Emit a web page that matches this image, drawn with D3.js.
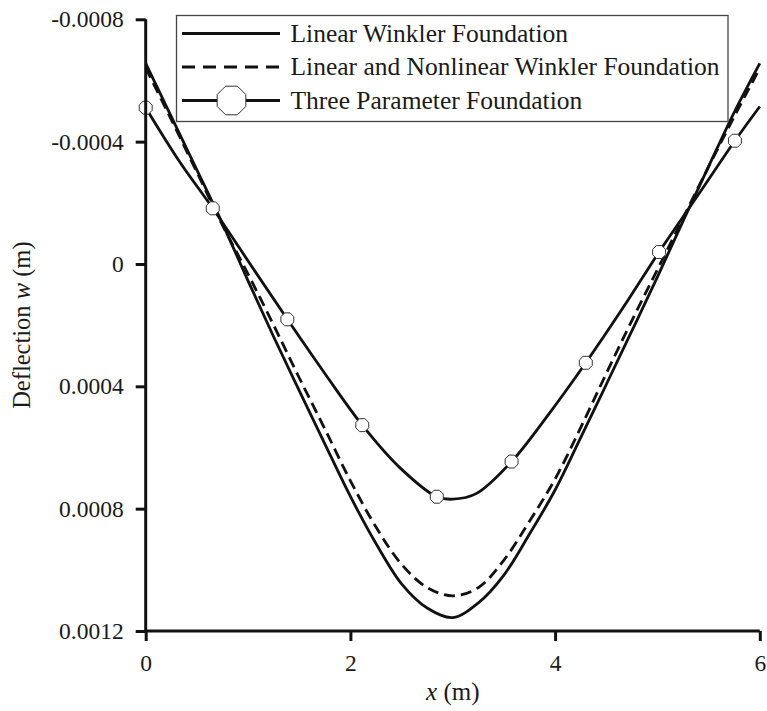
<!DOCTYPE html>
<html>
<head>
<meta charset="utf-8">
<script src="https://cdn.jsdelivr.net/npm/d3@7"></script>
<style>
  html, body { margin: 0; padding: 0; background: #fff; }
  svg { display: block; }
</style>
</head>
<body>
<svg id="chart" width="767" height="711"></svg>
<script>
// Beam deflection along x for three foundation models
const xGrid = [0, 0.25, 0.5, 0.75, 1, 1.25, 1.5, 1.75, 2, 2.25, 2.5, 2.75, 3,
               3.25, 3.5, 3.75, 4, 4.25, 4.5, 4.75, 5, 5.25, 5.5, 5.75, 6];

const linearWinkler = [-0.000656, -0.000482, -0.000308, -0.000132, 0.000055, 0.000238,
  0.000414, 0.000588, 0.000760, 0.000914, 0.001046, 0.001125, 0.001156,
  0.001108, 0.001017, 0.000883, 0.000739, 0.000568, 0.000394, 0.000219,
  0.000042, -0.000140, -0.000319, -0.000496, -0.000656];

const linearNonlinearWinkler = [-0.000641, -0.000472, -0.000300, -0.000127, 0.000033, 0.000200,
  0.000372, 0.000539, 0.000709, 0.000860, 0.000982, 0.001058, 0.001085,
  0.001058, 0.000968, 0.000841, 0.000703, 0.000535, 0.000358, 0.000185,
  0.000018, -0.000150, -0.000318, -0.000482, -0.000640];

const threeParamX = [0, 0.33, 0.655, 1.02, 1.384, 1.75, 2.116, 2.48, 2.844, 3.0,
  3.234, 3.575, 3.94, 4.30, 4.66, 5.016, 5.39, 5.757, 6];
const threeParam = [-0.000511, -0.000335, -0.000182, 0.000000, 0.000181, 0.000358,
  0.000527, 0.000665, 0.000761, 0.000769, 0.000750, 0.000646, 0.000490,
  0.000323, 0.000145, -0.000039, -0.000222, -0.000403, -0.000515];
// x positions of the three-parameter samples that carry a marker
const threeParamMarkerX = [0, 0.655, 1.384, 2.116, 2.844, 3.575, 4.30, 5.016, 5.757];

const xTicks = [0, 2, 4, 6];
const xTickLabels = ["0", "2", "4", "6"];
const yTicks = [-0.0008, -0.0004, 0, 0.0004, 0.0008, 0.0012];
const yTickLabels = ["-0.0008", "-0.0004", "0", "0.0004", "0.0008", "0.0012"];

const legendLabels = ["Linear Winkler Foundation",
                      "Linear and Nonlinear Winkler Foundation",
                      "Three Parameter Foundation"];

const W = 767, H = 711;
const margin = { top: 19.3, right: 7.2, bottom: 80, left: 145.7 };
const fontName = "Liberation Serif";
const textInk = "#1a1a1a";
const svg = d3.select("#chart");

const x = d3.scaleLinear().domain([0, 6]).range([margin.left, W - margin.right]);
const y = d3.scaleLinear().domain([-0.0008, 0.0012]).range([margin.top, H - margin.bottom]);

const ink = "#111";
const lw = 2.8;
const dash = "11,6";

const line = d3.line()
  .x(d => x(d[0])).y(d => y(d[1]))
  .curve(d3.curveCatmullRom.alpha(0.5));

const s1 = xGrid.map((v, i) => [v, linearWinkler[i]]);
const s2 = xGrid.map((v, i) => [v, linearNonlinearWinkler[i]]);
const s3 = threeParamX.map((v, i) => [v, threeParam[i]]);

svg.append("path").attr("d", line(s1))
  .attr("fill", "none").attr("stroke", ink).attr("stroke-width", lw);
svg.append("path").attr("d", line(s2))
  .attr("fill", "none").attr("stroke", ink).attr("stroke-width", lw)
  .attr("stroke-dasharray", dash);
svg.append("path").attr("d", line(s3))
  .attr("fill", "none").attr("stroke", ink).attr("stroke-width", lw);

// Octagon marker with flat top and bottom
function octagon(r) {
  const pts = d3.range(8).map(k => {
    const a = Math.PI / 8 + k * Math.PI / 4;
    return [r * Math.cos(a), r * Math.sin(a)];
  });
  return d3.line()(pts) + "Z";
}

const markerPts = s3.filter(d => threeParamMarkerX.includes(d[0]));
svg.append("g").selectAll("path").data(markerPts).join("path")
  .attr("d", octagon(7))
  .attr("transform", d => `translate(${x(d[0])},${y(d[1])})`)
  .attr("fill", "#fff").attr("stroke", "#333").attr("stroke-width", 1);

// Axes
const xAxis = d3.axisBottom(x).tickValues(xTicks)
  .tickFormat((d, i) => xTickLabels[i]).tickSize(10).tickPadding(13);
const gx = svg.append("g").attr("transform", `translate(0,${y(0.0012)})`).call(xAxis)
  .attr("font-family", null).attr("font-size", null);
gx.select(".domain").attr("d", `M${x(0)},0H${x(6)}`)
  .attr("stroke", ink).attr("stroke-width", 3);
gx.selectAll(".tick line").attr("stroke", ink).attr("stroke-width", 3);
gx.selectAll(".tick text").style("font-family", fontName).style("font-size", "23.5px")
  .attr("fill", textInk);

const yAxis = d3.axisLeft(y).tickValues(yTicks)
  .tickFormat((d, i) => yTickLabels[i]).tickSize(10).tickPadding(12);
const gy = svg.append("g").attr("transform", `translate(${x(0)},0)`).call(yAxis)
  .attr("font-family", null).attr("font-size", null);
gy.select(".domain").attr("d", `M0,${y(-0.0008)}V${y(0.0012)}`)
  .attr("stroke", ink).attr("stroke-width", 3);
gy.selectAll(".tick line").attr("stroke", ink).attr("stroke-width", 3);
gy.selectAll(".tick text").style("font-family", fontName).style("font-size", "23.5px")
  .attr("fill", textInk);

// Axis titles
const xTitle = svg.append("text")
  .attr("x", (x(0) + x(6)) / 2).attr("y", 700)
  .attr("text-anchor", "middle").attr("fill", textInk)
  .style("font-family", fontName).style("font-size", "25px");
xTitle.append("tspan").attr("font-style", "italic").text("x");
xTitle.append("tspan").text(" (m)");

const yTitle = svg.append("text")
  .attr("transform", `translate(30,${(y(-0.0008) + y(0.0012)) / 2}) rotate(-90)`)
  .attr("text-anchor", "middle").attr("fill", textInk)
  .style("font-family", fontName).style("font-size", "24.5px");
yTitle.append("tspan").text("Deflection ");
yTitle.append("tspan").attr("font-style", "italic").text("w");
yTitle.append("tspan").text(" (m)");

// Legend
const lg = svg.append("g");
lg.append("rect").attr("x", 176.5).attr("y", 15.5).attr("width", 551.5).attr("height", 106)
  .attr("fill", "#fff").attr("stroke", "#444").attr("stroke-width", 1.3);
const rowY = [33.5, 67, 100.5];
const styles = [
  { dash: null, marker: false },
  { dash: "13,8", marker: false },
  { dash: null, marker: true }
];
legendLabels.forEach((label, i) => {
  lg.append("line").attr("x1", 182).attr("x2", 280).attr("y1", rowY[i]).attr("y2", rowY[i])
    .attr("stroke", ink).attr("stroke-width", lw)
    .attr("stroke-dasharray", styles[i].dash);
  if (styles[i].marker) {
    lg.append("path").attr("d", octagon(15.5))
      .attr("transform", `translate(231.5,${rowY[i]})`)
      .attr("fill", "#fff").attr("stroke", "#333").attr("stroke-width", 1);
  }
  lg.append("text").attr("x", 290.5).attr("y", rowY[i]).attr("dy", "0.33em")
    .attr("fill", textInk)
    .style("font-family", fontName).style("font-size", "25.5px").text(label);
});
</script>
</body>
</html>
